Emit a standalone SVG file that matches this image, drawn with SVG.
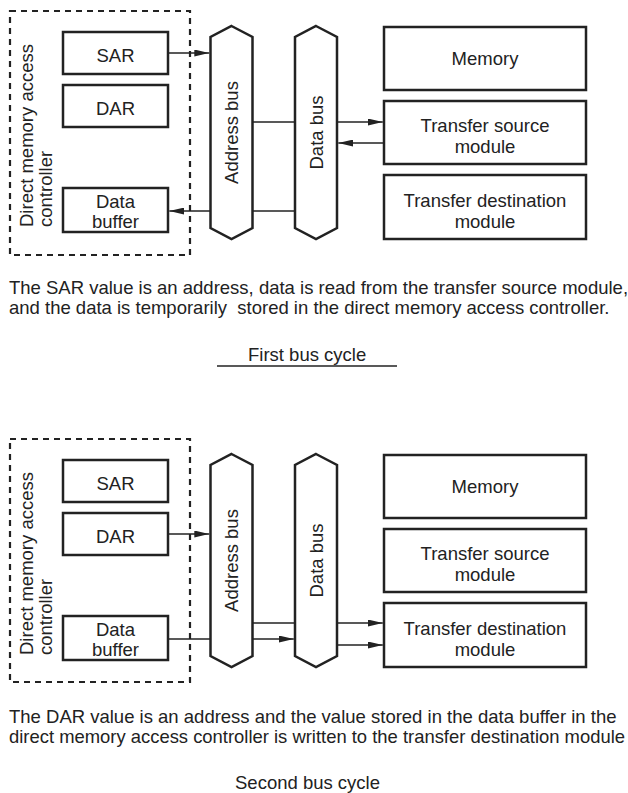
<svg xmlns="http://www.w3.org/2000/svg" width="628" height="793" viewBox="0 0 628 793">
<style>
.t{font-family:"Liberation Sans",Arial,Helvetica,sans-serif;font-size:18.5px;fill:#222}
.m{text-anchor:middle}
.box{fill:#fff;stroke:#222;stroke-width:2.5}
.dash{fill:none;stroke:#222;stroke-width:2.2;stroke-dasharray:6 5}
.bus{fill:#fff;stroke:#222;stroke-width:2.5;stroke-linejoin:miter}
.ln{fill:none;stroke:#222;stroke-width:1.3}
.ar{fill:none;stroke:#222;stroke-width:1.3;marker-end:url(#arr)}
</style>
<defs>
<marker id="arr" viewBox="0 0 15 7" refX="15" refY="3.5" markerWidth="15" markerHeight="7" markerUnits="userSpaceOnUse" orient="auto">
<path d="M0,0 L15,3.5 L0,7 z" fill="#222"/>
</marker>
</defs>

<!-- ===== First bus cycle ===== -->
<g id="dma1">
<rect class="dash" x="10" y="11" width="180" height="244"/>
<text class="t" transform="translate(33,227) rotate(-90)">Direct memory access</text>
<text class="t" transform="translate(52,227) rotate(-90)">controller</text>
</g>
<g id="sar1"><rect class="box" x="63" y="32" width="105" height="42"/><text class="t m" x="115.5" y="61.7">SAR</text></g>
<g id="dar1"><rect class="box" x="63" y="85" width="105" height="42"/><text class="t m" x="115.5" y="114.7">DAR</text></g>
<g id="buf1"><rect class="box" x="63" y="188" width="105" height="44"/><text class="t m" x="115.5" y="208.3">Data</text><text class="t m" x="115.5" y="227.7">buffer</text></g>
<g id="abus1"><polygon class="bus" points="231.5,26 252.5,37 252.5,228 231.5,239 210.5,228 210.5,37"/><text class="t m" transform="translate(238,132.5) rotate(-90)">Address bus</text></g>
<g id="dbus1"><polygon class="bus" points="316,26 337,37 337,228 316,239 295,228 295,37"/><text class="t m" transform="translate(322.6,132.5) rotate(-90)">Data bus</text></g>
<g id="mem1"><rect class="box" x="384" y="27" width="202" height="63"/><text class="t m" x="485" y="65">Memory</text></g>
<g id="src1"><rect class="box" x="384" y="101" width="202" height="63"/><text class="t m" x="485" y="131.7">Transfer source</text><text class="t m" x="485" y="152.7">module</text></g>
<g id="dst1"><rect class="box" x="384" y="175" width="202" height="64"/><text class="t m" x="485" y="206.7">Transfer destination</text><text class="t m" x="485" y="227.7">module</text></g>

<g id="connectors1">
<line class="ar" x1="168" y1="53" x2="209.3" y2="53"/>
<line class="ln" x1="253" y1="122" x2="295" y2="122"/>
<line class="ln" x1="253" y1="211" x2="295" y2="211"/>
<line class="ar" x1="210" y1="211" x2="169.3" y2="211"/>
<line class="ar" x1="337" y1="122" x2="382.8" y2="122"/>
<line class="ar" x1="384" y1="143" x2="338.3" y2="143"/>
</g>

<g id="caption1">
<text class="t" x="9" y="294">The SAR value is an address, data is read from the transfer source module,</text>
<text class="t" x="9" y="314" xml:space="preserve">and the data is temporarily  stored in the direct memory access controller.</text>
<text class="t" x="248" y="361">First bus cycle</text>
<line class="ln" x1="217" y1="366" x2="397" y2="366"/>
</g>

<!-- ===== Second bus cycle ===== -->
<g id="dma2">
<rect class="dash" x="10" y="439" width="180" height="243"/>
<text class="t" transform="translate(33,655) rotate(-90)">Direct memory access</text>
<text class="t" transform="translate(52,655) rotate(-90)">controller</text>
</g>
<g id="sar2"><rect class="box" x="63" y="460" width="105" height="42"/><text class="t m" x="115.5" y="489.7">SAR</text></g>
<g id="dar2"><rect class="box" x="63" y="513" width="105" height="42"/><text class="t m" x="115.5" y="542.7">DAR</text></g>
<g id="buf2"><rect class="box" x="63" y="616" width="105" height="44"/><text class="t m" x="115.5" y="636.3">Data</text><text class="t m" x="115.5" y="655.7">buffer</text></g>
<g id="abus2"><polygon class="bus" points="231.5,454 252.5,465 252.5,656 231.5,667 210.5,656 210.5,465"/><text class="t m" transform="translate(238,560.5) rotate(-90)">Address bus</text></g>
<g id="dbus2"><polygon class="bus" points="316,454 337,465 337,656 316,667 295,656 295,465"/><text class="t m" transform="translate(322.6,560.5) rotate(-90)">Data bus</text></g>
<g id="mem2"><rect class="box" x="384" y="455" width="202" height="63"/><text class="t m" x="485" y="493">Memory</text></g>
<g id="src2"><rect class="box" x="384" y="529" width="202" height="63"/><text class="t m" x="485" y="559.7">Transfer source</text><text class="t m" x="485" y="580.7">module</text></g>
<g id="dst2"><rect class="box" x="384" y="603" width="202" height="64"/><text class="t m" x="485" y="634.7">Transfer destination</text><text class="t m" x="485" y="655.7">module</text></g>

<g id="connectors2">
<line class="ar" x1="168" y1="534" x2="209.3" y2="534"/>
<line class="ln" x1="168" y1="639" x2="210" y2="639"/>
<line class="ar" x1="253" y1="639" x2="293.8" y2="639"/>
<line class="ln" x1="253" y1="623" x2="295" y2="623"/>
<line class="ar" x1="337" y1="623" x2="382.8" y2="623"/>
<line class="ar" x1="337" y1="645" x2="382.8" y2="645"/>
</g>

<g id="caption2">
<text class="t" x="9" y="723">The DAR value is an address and the value stored in the data buffer in the</text>
<text class="t" x="9" y="743" textLength="616" lengthAdjust="spacingAndGlyphs">direct memory access controller is written to the transfer destination module</text>
<text class="t" x="235" y="789">Second bus cycle</text>
</g>
</svg>
